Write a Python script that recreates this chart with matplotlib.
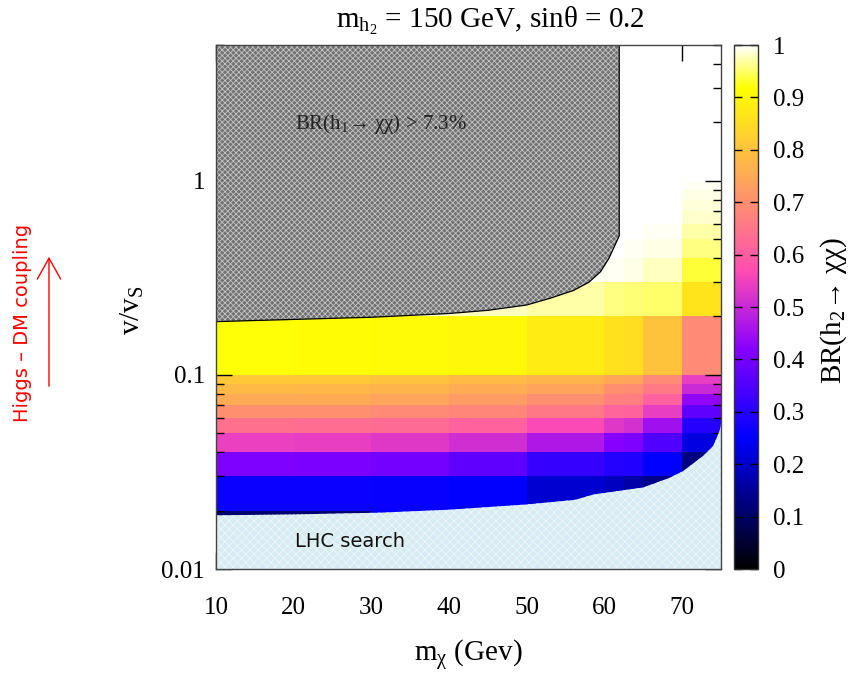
import numpy as np
import matplotlib
matplotlib.use('Agg')
import matplotlib.pyplot as plt
from matplotlib.patches import Polygon, FancyArrowPatch

plt.rcParams['font.family'] = ['Liberation Serif', 'DejaVu Serif']
plt.rcParams['mathtext.fontset'] = 'custom'
plt.rcParams['mathtext.rm'] = 'Liberation Serif'
plt.rcParams['mathtext.it'] = 'Liberation Serif:italic'
plt.rcParams['hatch.linewidth'] = 0.6

# grid of the pm3d map: m_chi edges and v/v_S edges
mchi_edges = [10, 20, 30, 40, 50, 60, 62.5, 65, 70, 75]
v_edges = [0.01, 0.02, 0.03, 0.04, 0.05, 0.06, 0.07, 0.08, 0.09,
           0.1, 0.2, 0.3, 0.4, 0.5, 0.6, 0.7, 0.8, 0.9,
           1, 2, 3, 4, 5]

# BR(h2 -> chi chi), one row per v/v_S band (bottom to top)
br = [
    [0.11, 0.11, 0.25, 0.245, 0.21, 0.19, 0.165, 0.13, 0.08],
    [0.265, 0.262, 0.258, 0.25, 0.205, 0.19, 0.165, 0.14, 0.10],
    [0.41, 0.405, 0.395, 0.37, 0.32, 0.295, 0.29, 0.25, 0.125],
    [0.545, 0.54, 0.53, 0.51, 0.465, 0.42, 0.41, 0.35, 0.22],
    [0.64, 0.635, 0.63, 0.61, 0.565, 0.53, 0.515, 0.45, 0.30],
    [0.70, 0.70, 0.69, 0.68, 0.655, 0.615, 0.61, 0.54, 0.37],
    [0.75, 0.75, 0.74, 0.725, 0.70, 0.67, 0.665, 0.61, 0.43],
    [0.785, 0.78, 0.77, 0.755, 0.74, 0.70, 0.695, 0.66, 0.50],
    [0.81, 0.81, 0.80, 0.785, 0.77, 0.745, 0.74, 0.69, 0.54],
    [0.92, 0.912, 0.91, 0.905, 0.88, 0.86, 0.855, 0.80, 0.69],
    [0.99, 0.99, 0.985, 0.98, 0.97, 0.96, 0.957, 0.95, 0.865],
    [1.0, 1.0, 0.998, 0.996, 0.994, 0.993, 0.99, 0.98, 0.935],
    [1.0, 1.0, 1.0, 1.0, 0.998, 0.997, 0.995, 0.99, 0.96],
    [1.0, 1.0, 1.0, 1.0, 1.0, 0.999, 0.998, 0.995, 0.972],
    [1.0, 1.0, 1.0, 1.0, 1.0, 1.0, 0.999, 0.998, 0.982],
    [1.0, 1.0, 1.0, 1.0, 1.0, 1.0, 1.0, 0.999, 0.988],
    [1.0, 1.0, 1.0, 1.0, 1.0, 1.0, 1.0, 1.0, 0.992],
    [1.0, 1.0, 1.0, 1.0, 1.0, 1.0, 1.0, 1.0, 0.995],
    [1.0, 1.0, 1.0, 1.0, 1.0, 1.0, 1.0, 1.0, 0.998],
    [1.0, 1.0, 1.0, 1.0, 1.0, 1.0, 1.0, 1.0, 1.0],
    [1.0, 1.0, 1.0, 1.0, 1.0, 1.0, 1.0, 1.0, 1.0],
    [1.0, 1.0, 1.0, 1.0, 1.0, 1.0, 1.0, 1.0, 1.0],
]

# BR(h1 -> chi chi) > 7.3% exclusion boundary
excl_x = [10, 20, 30, 40, 45, 50, 53, 56, 58, 59.5, 60.6, 61.4, 61.9]
excl_y = [0.188, 0.193, 0.198, 0.207, 0.215, 0.229, 0.248, 0.272, 0.30, 0.34, 0.40, 0.47, 0.52]

# LHC search exclusion boundary
lhc_x = [10, 20, 31, 40, 50, 56.2, 58.6, 65, 68.4, 70.1, 72.7, 74, 74.9, 75]
lhc_y = [0.0189, 0.0191, 0.0195, 0.0202, 0.0215, 0.0227, 0.0242, 0.0263,
         0.0295, 0.0319, 0.0382, 0.043, 0.0525, 0.056]

xticks = [10, 20, 30, 40, 50, 60, 70]
cticks = [0, 0.1, 0.2, 0.3, 0.4, 0.5, 0.6, 0.7, 0.8, 0.9, 1]
clabels = ['0', '0.1', '0.2', '0.3', '0.4', '0.5', '0.6', '0.7', '0.8', '0.9', '1']

W, H = 851, 673
fig = plt.figure(figsize=(W / 100, H / 100), dpi=100)
ax = fig.add_axes([216 / W, 104 / H, 505 / W, 524 / H])
cax = fig.add_axes([734 / W, 104 / H, 24 / W, 524 / H])

mesh = ax.pcolormesh(mchi_edges, v_edges, np.array(br), cmap='gnuplot2',
                     vmin=0, vmax=1, shading='flat', zorder=1)
ax.set_yscale('log')
ax.set_xlim(10, 75)
ax.set_ylim(0.01, 5)

# grey hatched region
gx = excl_x + [excl_x[-1], 10]
gy = excl_y + [5, 5]
ax.add_patch(Polygon(list(zip(gx, gy)), closed=True, facecolor='#727272',
                     edgecolor='#c4c4c4', hatch='xxxxxx', linewidth=0, zorder=3))
ax.plot(excl_x + [excl_x[-1]], excl_y + [5], color='black', lw=0.9, zorder=4)

# LHC region
lx = lhc_x + [75, 10]
ly = lhc_y + [0.01, 0.01]
ax.add_patch(Polygon(list(zip(lx, ly)), closed=True, facecolor='#d6ebf2',
                     edgecolor='#eef7fa', hatch='xxxx', linewidth=0, zorder=3))

ax.text(20.2, 0.0139, 'LHC search', family=['DejaVu Sans'], fontsize=14,
        va='center', ha='left', color='#111111', zorder=6)
ax.text(20.2, 1.97, r'BR($\mathrm{h}_1$→ χχ) > 7.3%', fontsize=15,
        va='center', ha='left', color='#222222', zorder=6)

for s in ax.spines.values():
    s.set_zorder(5)
    s.set_linewidth(1.0)
    s.set_color('#444444')

ax.set_xticks(xticks)
ax.set_xticklabels([str(t) for t in xticks])
ax.set_yticks([0.01, 0.1, 1])
ax.set_yticklabels(['0.01', '0.1', '1'])
ax.tick_params(which='both', direction='in', top=True, right=True, labelsize=18)
ax.tick_params(which='major', length=11.5, width=1.0)
ax.tick_params(which='minor', length=5.5, width=1.0)
ax.tick_params(axis='x', pad=20)
ax.tick_params(axis='y', pad=8)
ax.xaxis.set_minor_locator(matplotlib.ticker.NullLocator())

cb = fig.colorbar(mesh, cax=cax, ticks=cticks)
cb.ax.set_yticklabels(clabels)
cb.outline.set_linewidth(1.0)
cb.outline.set_edgecolor('#333333')
cax.tick_params(direction='in', left=True, right=True, length=6, width=1.0,
                labelsize=18, pad=11)
cax.minorticks_off()

fig.text(834 / W, 1 - 310 / H, r'BR($\mathrm{h}_2$→ χχ)', rotation=90,
         fontsize=21, ha='center', va='center')
fig.text(490 / W, 1 - 28 / H, r'$\mathrm{m}_{\mathrm{h}_2}$ = 150 GeV, sinθ = 0.2',
         fontsize=21, ha='center', va='baseline')
fig.text(468 / W, 1 - 662 / H, r'$\mathrm{m}_{\mathrm{χ}}$ (Gev)', fontsize=21,
         ha='center', va='baseline')
fig.text(132 / W, 1 - 310 / H, r'v/v$_{\mathrm{S}}$', rotation=90, fontsize=21,
         ha='center', va='center')

# Higgs - DM coupling annotation
fig.text(23 / W, 1 - 323 / H, 'Higgs – DM coupling', rotation=90, color='red',
         family=['Liberation Sans Narrow', 'DejaVu Sans'], fontsize=14,
         ha='center', va='center')
arr = FancyArrowPatch((49 / W, 1 - 389 / H), (49 / W, 1 - 254 / H),
                      transform=fig.transFigure, color='red', lw=1.0,
                      arrowstyle='->,head_length=0.75,head_width=0.42',
                      mutation_scale=20)
fig.add_artist(arr)

fig.savefig('out.png', dpi=100)
